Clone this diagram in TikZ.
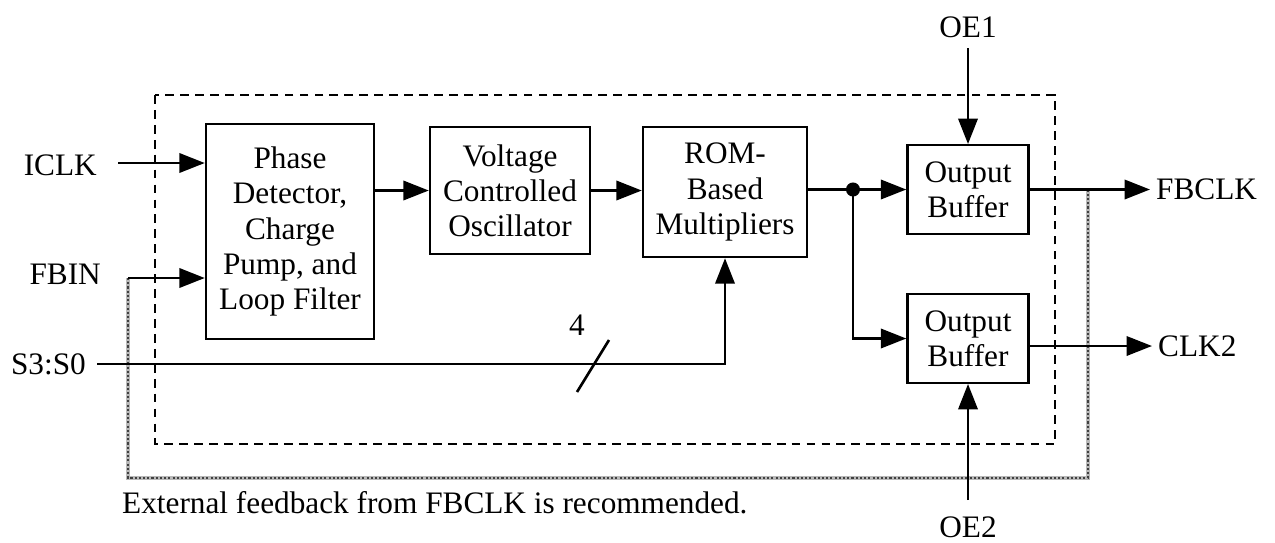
\documentclass[tikz,border=0pt]{standalone}
\usepackage{fontspec}
\setmainfont{Liberation Serif}
\usepackage{tikz}
\usetikzlibrary{calc, positioning, arrows.meta}

\begin{document}
\begin{tikzpicture}[x=0.02cm, y=-0.02cm,
  font=\fontsize{17.8}{20}\selectfont,
  blk/.style={draw, line width=1.4pt, align=center, inner sep=0pt},
  sig/.style={line width=1.5pt, -{Triangle[length=14.5pt,width=11pt]}},
  wire/.style={line width=1.5pt},
  dashbox/.style={line width=0.8pt, dash pattern=on 5pt off 3.5pt},
  fbline/.style={draw=gray!55, line width=2.4pt,
    postaction={draw=black!75, line width=0.6pt, dash pattern=on 1.2pt off 1.2pt}}]
\useasboundingbox (0,0) rectangle (1275,542);
% PLL blocks
\node[blk, minimum width=3.36cm, minimum height=4.3cm] (pd) at (290,231.5)
  {Phase\\Detector,\\Charge\\Pump, and\\Loop Filter};
\node[blk, minimum width=3.2cm, minimum height=2.54cm] (vco) at (510,190.5)
  {Voltage\\Controlled\\Oscillator};
\node[blk, minimum width=3.28cm, minimum height=2.6cm] (rom) at (725,192)
  {ROM-\\Based\\Multipliers};
\foreach \n/\y in {ob1/189.5, ob2/338.5}
  \node[blk, minimum width=2.42cm, minimum height=1.77cm] (\n) at (968,\y) {Output\\Buffer};
% pins
\node[anchor=east] (iclk) at (103,165) {ICLK};
\node[anchor=east] (fbin) at (107,274) {FBIN};
\node[anchor=east] (ssel) at (92,364) {S3:S0};
\node[anchor=west] (fbclk) at (1150,189.5) {FBCLK};
\node[anchor=west] (clk2) at (1152,346) {CLK2};
\node (oe1) at (968,27) {OE1};
\node (oe2) at (968,527) {OE2};
\node (bw) at (577,325) {4};
\node[anchor=west] (note) at (116,503) {External feedback from FBCLK is recommended.};
\coordinate (iclkin) at (118,163);
\coordinate (fbinin) at (128,278);
\coordinate (sselin) at (97,364);
\coordinate (oe1in) at (968,48);
\coordinate (oe2in) at (968,500);
\coordinate (jn) at (853,189.5);
\coordinate (fbbot) at (128,478);
\coordinate (fbtap) at (1088,189.5);
% chip outline and feedback
\draw[dashbox] (155,95) rectangle (1055,444);
\draw[fbline] (fbinin) -- (fbbot) -| (fbtap);
% signals
\draw[sig] (iclkin) -- (iclkin -| pd.west);
\draw[sig] (fbinin) -- (fbinin -| pd.west);
\draw[sig] (vco.west -| pd.east) -- (vco.west);
\draw[sig] (vco.east) -- (vco.east -| rom.west);
\draw[wire] (rom.east |- jn) -- (jn);
\draw[sig] (jn) -- (ob1.west);
\draw[sig] (jn) |- (ob2.west);
\fill (jn) circle (4pt);
\draw[sig] (sselin) -| (rom.south);
\draw[wire] (577,392) -- (609,340);
\draw[sig] (oe1in) -- (ob1.north);
\draw[sig] (oe2in) -- (ob2.south);
\draw[sig] (ob1.east) -- (fbclk.west);
\draw[sig] (ob2.east |- clk2) -- (clk2.west);
\end{tikzpicture}
\end{document}
